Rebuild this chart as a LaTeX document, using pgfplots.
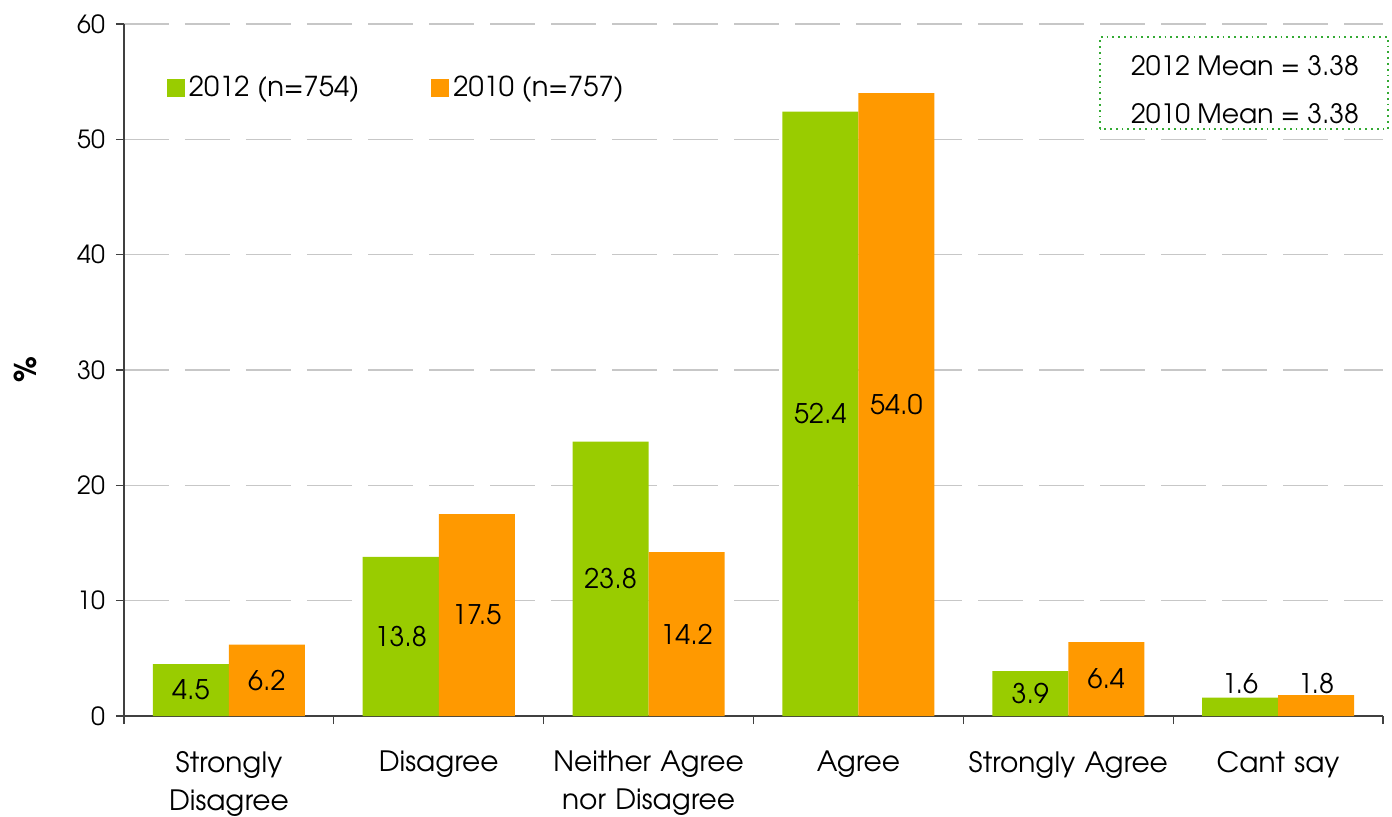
\documentclass[border=0pt]{standalone}
\usepackage{fontspec}
\setmainfont{TeX Gyre Adventor}
\usepackage{pgfplots}
\pgfplotsset{compat=1.18}
\definecolor{cgreen}{HTML}{99CC00}
\definecolor{corange}{HTML}{FF9900}
\definecolor{boxgreen}{HTML}{33AA33}
\begin{document}
\begin{tikzpicture}
\path[use as bounding box] (-62pt,-50pt) rectangle (634pt,358pt);
\begin{axis}[
  at={(0,0)}, anchor=south west,
  scale only axis, width=629.5pt, height=346pt,
  xmin=-0.5, xmax=5.5, ymin=0, ymax=60,
  axis x line*=bottom, axis y line*=left,
  axis line style={black!75, line width=0.6pt},
  ytick={0,10,...,60},
  xtick={-0.5,0.5,...,5.5},
  x tick label as interval,
  xticklabels={{Strongly\\Disagree},{Disagree},{Neither Agree\\nor Disagree},{Agree},{Strongly Agree},{Cant say}},
  xticklabel style={align=center, text width=130pt, font=\fontsize{14}{19}\selectfont, yshift=-10pt},
  yticklabel style={font=\fontsize{12.5}{14}\selectfont, xshift=-2pt},
  tick align=outside, major tick length=4pt,
  tick style={black!75, line width=0.6pt},
  /pgf/number format/assume math mode=true,
  ymajorgrids, grid style={draw=black!22, line width=0.6pt, dash pattern=on 22.5pt off 8pt},
  ylabel={\bfseries\%},
  ylabel style={at={(axis description cs:-0.0786,0.5)}, anchor=center, font=\fontsize{15}{17}\selectfont},
  ybar=0pt, bar width=38pt,
  nodes near coords={\pgfmathprintnumber[fixed,fixed zerofill,precision=1]{\pgfplotspointmeta}},
  visualization depends on={y \as \rawy},
  every node near coord/.append style={font=\fontsize{13.5}{15}\selectfont, anchor=center,
     shift={(axis direction cs:0,{ifthenelse(\rawy<3,2.8-\rawy,-\rawy/2)})}},
  legend style={draw=none, fill=none, at={(rel axis cs:0.029,0.937)}, anchor=north west,
     legend columns=2, font=\fontsize{13.7}{15}\selectfont,
     /tikz/every even column/.append style={column sep=34pt},
     legend cell align=left},
  legend image code/.code={\fill[#1] (0pt,-4.5pt) rectangle (9pt,4.5pt);},
]
\addplot[fill=cgreen, draw=none] coordinates {(0,4.5) (1,13.8) (2,23.8) (3,52.4) (4,3.9) (5,1.6)};
\addplot[fill=corange, draw=none] coordinates {(0,6.2) (1,17.5) (2,14.2) (3,54.0) (4,6.4) (5,1.8)};
\legend{2012 (n=754), 2010 (n=757)}
\end{axis}
\draw[boxgreen, dotted, line width=0.9pt] (488pt,293.5pt) rectangle (632pt,339.5pt);
\begin{scope}
\clip (488pt,296.5pt) rectangle (632pt,339.5pt);
\node[font=\fontsize{13.3}{15}\selectfont] at (560.5pt,325pt) {2012 Mean = 3.38};
\node[font=\fontsize{13.3}{15}\selectfont] at (560.5pt,301pt) {2010 Mean = 3.38};
\end{scope}
\end{tikzpicture}
\end{document}
